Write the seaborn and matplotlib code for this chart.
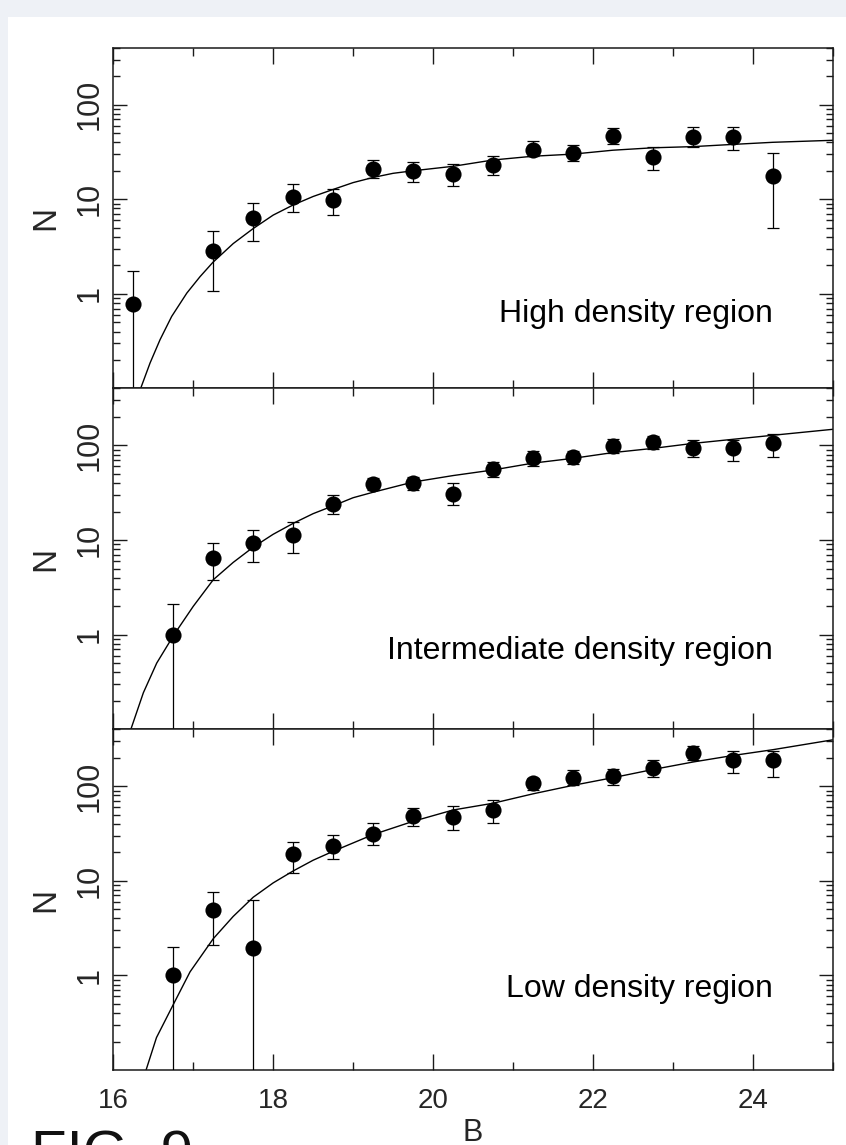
import numpy as np
import pandas as pd
import matplotlib
matplotlib.use("Agg")
import matplotlib.pyplot as plt
from matplotlib.patches import Rectangle
from matplotlib.ticker import FixedLocator, MultipleLocator, LogLocator, NullFormatter
import seaborn as sns

# ---------------- data ----------------
# B magnitude bin centres
mag_high = [16.25, 17.25, 17.75, 18.25, 18.75, 19.25, 19.75, 20.25,
            20.75, 21.25, 21.75, 22.25, 22.75, 23.25, 23.75, 24.25]
n_high = [0.79, 2.84, 6.3, 10.6, 9.9, 21.0, 19.7, 18.6,
          23.2, 33.0, 30.8, 47.1, 27.9, 46.0, 45.3, 17.5]
hi_high = [1.76, 4.6, 9.1, 14.4, 12.9, 25.8, 24.6, 23.8,
           28.4, 40.8, 37.7, 56.9, 35.6, 57.6, 57.6, 30.8]
# 0.01 = error bar runs below the plotted range
lo_high = [0.01, 1.07, 3.6, 7.4, 6.8, 16.9, 15.2, 13.8,
           17.9, 28.4, 25.1, 38.6, 20.2, 36.1, 33.4, 5.0]

mag_mid = [16.75, 17.25, 17.75, 18.25, 18.75, 19.25, 19.75, 20.25,
           20.75, 21.25, 21.75, 22.25, 22.75, 23.25, 23.75, 24.25]
n_mid = [1.0, 6.5, 9.3, 11.3, 24.0, 39.0, 40.0, 31.0,
         57.0, 73.0, 75.0, 98.0, 108.0, 93.0, 93.0, 105.0]
hi_mid = [2.1, 9.3, 12.7, 15.4, 29.7, 45.0, 46.5, 39.8,
          66.7, 87.0, 88.0, 117.0, 127.0, 113.0, 113.0, 133.0]
lo_mid = [0.01, 3.8, 5.9, 7.3, 18.8, 33.6, 34.0, 23.4,
          46.0, 60.0, 63.0, 83.0, 92.0, 75.0, 69.0, 75.0]

mag_low = [16.75, 17.25, 17.75, 18.25, 18.75, 19.25, 19.75, 20.25,
           20.75, 21.25, 21.75, 22.25, 22.75, 23.25, 23.75, 24.25]
n_low = [1.0, 4.9, 1.95, 19.3, 23.5, 31.4, 48.5, 47.7,
         56.0, 107.0, 122.0, 127.0, 156.0, 224.0, 187.0, 187.0]
hi_low = [2.0, 7.6, 6.25, 25.5, 30.2, 40.6, 59.3, 62.0,
          71.0, 123.0, 147.0, 153.0, 187.0, 268.0, 233.0, 233.0]
lo_low = [0.01, 2.1, 0.01, 12.2, 17.1, 23.7, 37.5, 34.6,
          40.7, 92.0, 102.0, 102.0, 126.0, 187.0, 138.0, 125.0]

# fitted model curves (sampled from the figure)
fit_x_high = [16.34, 16.46, 16.585, 16.73, 16.92, 17.085, 17.245, 17.5, 17.75,
              18.0, 18.25, 18.5, 18.75, 19.0, 19.25, 19.5, 19.75, 20.25,
              20.75, 21.25, 21.75, 22.25, 22.75, 23.25, 23.75, 24.25, 25.0]
fit_n_high = [0.099, 0.186, 0.328, 0.577, 1.02, 1.52, 2.15, 3.4, 4.9,
              6.8, 8.7, 10.7, 12.7, 15.0, 17.0, 18.8, 20.0, 22.3,
              26.0, 28.5, 30.0, 33.0, 35.0, 36.0, 38.0, 40.0, 42.0]

fit_x_mid = [16.22, 16.376, 16.543, 16.76, 17.0, 17.25, 17.5, 17.75, 18.0,
             18.25, 18.5, 18.75, 19.0, 19.25, 19.75, 20.25, 20.75, 21.25,
             21.75, 22.25, 22.75, 23.25, 23.75, 24.25, 25.0]
fit_n_mid = [0.1, 0.243, 0.50, 1.0, 1.99, 3.8, 5.8, 8.4, 11.5,
             15.0, 19.0, 23.0, 28.0, 32.0, 41.0, 48.0, 55.0, 65.0,
             73.0, 84.0, 93.0, 105.0, 116.0, 128.0, 148.0]

fit_x_low = [16.41, 16.54, 16.76, 16.96, 17.25, 17.5, 17.75, 18.0, 18.25,
             18.5, 18.75, 19.25, 19.75, 20.25, 20.75, 21.25, 21.75, 22.25,
             22.75, 23.25, 23.75, 24.25, 25.0]
fit_n_low = [0.1, 0.22, 0.51, 1.09, 2.44, 4.2, 6.7, 9.5, 12.7,
             16.5, 20.5, 30.8, 42.5, 56.0, 66.0, 83.0, 102.0, 123.0,
             150.0, 180.0, 211.0, 243.0, 309.0]

region_labels = ["High density region", "Intermediate density region", "Low density region"]
x_ticks = [16, 18, 20, 22, 24]
y_ticks = [1, 10, 100]
y_ticklabels = ["1", "10", "100"]

panels = [
    (mag_high, n_high, lo_high, hi_high, fit_x_high, fit_n_high),
    (mag_mid, n_mid, lo_mid, hi_mid, fit_x_mid, fit_n_mid),
    (mag_low, n_low, lo_low, hi_low, fit_x_low, fit_n_low),
]
label_y = [0.195, 0.207, 0.213]

# ---------------- styling ----------------
sns.set_theme(style="ticks")
plt.rcParams["font.family"] = ["Liberation Sans", "DejaVu Sans"]
plt.rcParams["axes.linewidth"] = 1.1
plt.rcParams["axes.edgecolor"] = "#1a1a1a"

W, H = 846, 1145
fig = plt.figure(figsize=(W / 100, H / 100), dpi=100)
fig.patch.set_facecolor("#eef1f6")
fig.add_artist(Rectangle((8 / W, 0), 1, (H - 17) / H, transform=fig.transFigure,
                         facecolor="white", edgecolor="none", zorder=0))

left_px, right_px = 113.3, 832.7
top_px, bot_px = 47.7, 1070.0
ph = (bot_px - top_px) / 3

for i, (mag, n, lo, hi, fx, fn) in enumerate(panels):
    t = top_px + i * ph
    ax = fig.add_axes([left_px / W, 1 - (t + ph) / H, (right_px - left_px) / W, ph / H])
    ax.set_facecolor("white")
    ax.set_yscale("log")
    df = pd.DataFrame({"B": mag, "N": n, "lo": lo, "hi": hi})
    fit = pd.DataFrame({"B": fx, "N": fn})

    sns.lineplot(data=fit, x="B", y="N", ax=ax, color="black", linewidth=1.0,
                 sort=False, estimator=None, zorder=2)
    yerr = np.array([df["N"] - df["lo"], df["hi"] - df["N"]])
    ax.errorbar(df["B"], df["N"], yerr=yerr, fmt="none", ecolor="black",
                elinewidth=0.9, capsize=4.3, capthick=0.9, zorder=3)
    sns.scatterplot(data=df, x="B", y="N", ax=ax, color="black", s=135,
                    linewidth=0, zorder=4, legend=False)

    ax.set_xlim(16, 25)
    ax.set_ylim(0.1, 400)
    ax.xaxis.set_major_locator(FixedLocator(x_ticks))
    ax.xaxis.set_minor_locator(MultipleLocator(1))
    ax.yaxis.set_major_locator(FixedLocator(y_ticks))
    ax.set_yticklabels(y_ticklabels)
    ax.yaxis.set_minor_locator(LogLocator(base=10, subs=np.arange(2, 10)))
    ax.yaxis.set_minor_formatter(NullFormatter())

    ax.tick_params(axis="both", which="both", direction="in", top=True, right=True,
                   color="#1a1a1a", width=1.0)
    ax.tick_params(axis="x", which="major", length=11.5, labelsize=20, pad=13)
    ax.tick_params(axis="x", which="minor", length=5.8)
    ax.tick_params(axis="y", which="major", length=10, labelsize=22, pad=6)
    ax.tick_params(axis="y", which="minor", length=5)
    for tl in ax.get_yticklabels():
        tl.set_rotation(90)
        tl.set_va("center")

    ax.set_ylabel("N", fontsize=24, rotation=90)
    ax.yaxis.set_label_coords(-0.073, 0.5)
    if i < 2:
        ax.tick_params(axis="x", labelbottom=False)
        ax.set_xlabel("")
    else:
        ax.set_xlabel("B", fontsize=22)
        ax.xaxis.set_label_coords(0.5, -0.142)

    ax.text(0.917, label_y[i], region_labels[i], transform=ax.transAxes,
            ha="right", va="baseline", fontsize=23, color="black")

fig.text(31 / W, 1 - 1129 / H, "FIG. 9", fontsize=42, ha="left", va="top",
         color="#111111", family=["Liberation Sans", "DejaVu Sans"])

fig.savefig("out.png", dpi=100, facecolor=fig.get_facecolor())
